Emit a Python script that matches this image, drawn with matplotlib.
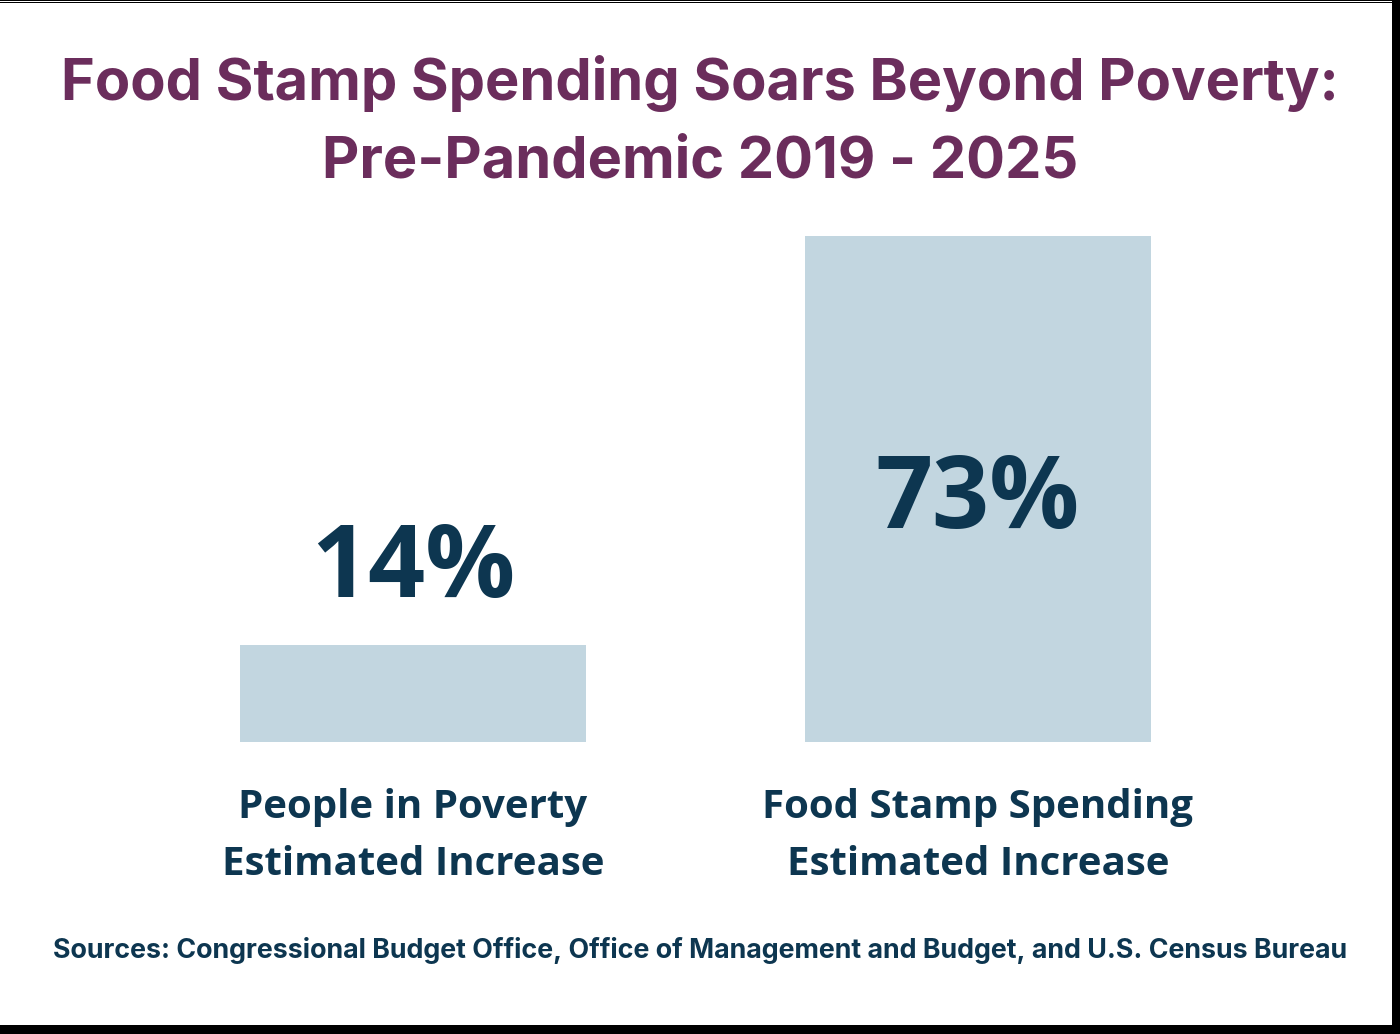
import matplotlib
matplotlib.use("Agg")
import matplotlib.pyplot as plt
from matplotlib.patches import Rectangle

# data
categories = ["People in Poverty\nEstimated Increase", "Food Stamp Spending\nEstimated Increase"]
values = [14, 73]
value_labels = ["14%", "73%"]

title = "Food Stamp Spending Soars Beyond Poverty:\nPre-Pandemic 2019 - 2025"
source = "Sources: Congressional Budget Office, Office of Management and Budget, and U.S. Census Bureau"

# style
purple = "#6B2D5C"
navy = "#0D3650"
bar_color = "#C2D6E0"
label_y = [24.8, 34.7]  # where the big percentage text sits (data units)

fig = plt.figure(figsize=(14, 10.34), dpi=100)
fig.patch.set_facecolor("white")

# axes placed so the bars land where the reference has them
ax = fig.add_axes([130.5 / 1400, 292 / 1034, 1130 / 1400, 693 / 1034])
x = list(range(len(values)))
ax.bar(x, values, width=346 / 565, color=bar_color)
ax.set_xlim(-0.5, 1.5)
ax.set_ylim(0, 100)
ax.axis("off")

for xi, yi, txt in zip(x, label_y, value_labels):
    ax.text(xi, yi, txt, ha="center", va="center", fontsize=72,
            fontweight="bold", family="Open Sans", color=navy)

for xi, cat in zip(x, categories):
    ax.text(xi, -6.6, cat, ha="center", va="top", fontsize=29,
            fontweight="bold", family="Open Sans", color=navy,
            linespacing=1.6)

fig.text(0.5, 1 - 122 / 1034, title, ha="center", va="center", fontsize=41.6,
         fontweight="bold", family="Inter", color=purple, linespacing=1.57)
fig.text(0.5, 1 - 950 / 1034, source, ha="center", va="center", fontsize=19.3,
         fontweight="bold", family="Inter", color=navy)

# black frame bits from the screenshot
def frame(x0, y0, w, h):
    fig.patches.append(Rectangle((x0 / 1400, 1 - (y0 + h) / 1034), w / 1400, h / 1034,
                                 facecolor="black", linewidth=0, transform=fig.transFigure))

frame(0, 0, 1400, 1)
frame(0, 2.2, 1400, 1)
frame(1392, 0, 8, 1034)
frame(0, 1025, 1400, 9)

fig.savefig("out.png", dpi=100)
